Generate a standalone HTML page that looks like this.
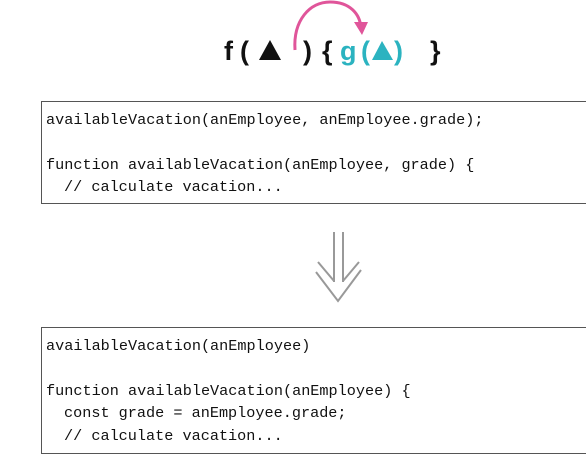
<!DOCTYPE html>
<html><head><meta charset="utf-8"><style>
html,body{margin:0;padding:0;background:#fff;width:586px;height:463px;overflow:hidden}
</style></head><body>
<svg width="586" height="463" viewBox="0 0 586 463" xmlns="http://www.w3.org/2000/svg">
<g font-family="Liberation Sans, DejaVu Sans, sans-serif" font-weight="bold" font-size="27">
<text x="224" y="60" fill="#111">f</text>
<text x="240" y="60" fill="#111">(</text>
<polygon points="259,60 270,40 281,60" fill="#111"/>
<text x="303" y="60" fill="#111">)</text>
<text x="322" y="60" fill="#111">{</text>
<text x="340" y="60" fill="#2bb3c0">g</text>
<text x="361" y="60" fill="#2bb3c0">(</text>
<polygon points="372,60 382,41 393,60" fill="#2bb3c0"/>
<text x="394" y="60" fill="#2bb3c0">)</text>
<text x="430" y="60" fill="#111">}</text>
</g>
<path d="M295,50 C293,20 310,2 330,2 C350,2 360,14 361,28" fill="none" stroke="#e0559a" stroke-width="3"/>
<polygon points="354,22 368,22 362,35" fill="#e0559a"/>
<g fill="none" stroke="#999" stroke-width="2">
<line x1="334" y1="232" x2="334" y2="282"/>
<line x1="343" y1="232" x2="343" y2="282"/>
<path d="M318,262 L334,281 M359,262 L343,281"/>
<path d="M316,272 L338,301 L361,270"/>
</g>
<rect x="41.5" y="101.5" width="560" height="102" fill="none" stroke="#555" stroke-width="1"/>
<rect x="41.5" y="327.5" width="560" height="126" fill="none" stroke="#555" stroke-width="1"/>
<g font-family="Liberation Mono, DejaVu Sans Mono, monospace" font-size="15.2" fill="#111">
<text x="46" y="124">availableVacation(anEmployee, anEmployee.grade);</text>
<text x="46" y="169">function availableVacation(anEmployee, grade) {</text>
<text x="64" y="191">// calculate vacation...</text>
<text x="46" y="350">availableVacation(anEmployee)</text>
<text x="46" y="395">function availableVacation(anEmployee) {</text>
<text x="64" y="417">const grade = anEmployee.grade;</text>
<text x="64" y="440">// calculate vacation...</text>
</g>
</svg>
</body></html>
